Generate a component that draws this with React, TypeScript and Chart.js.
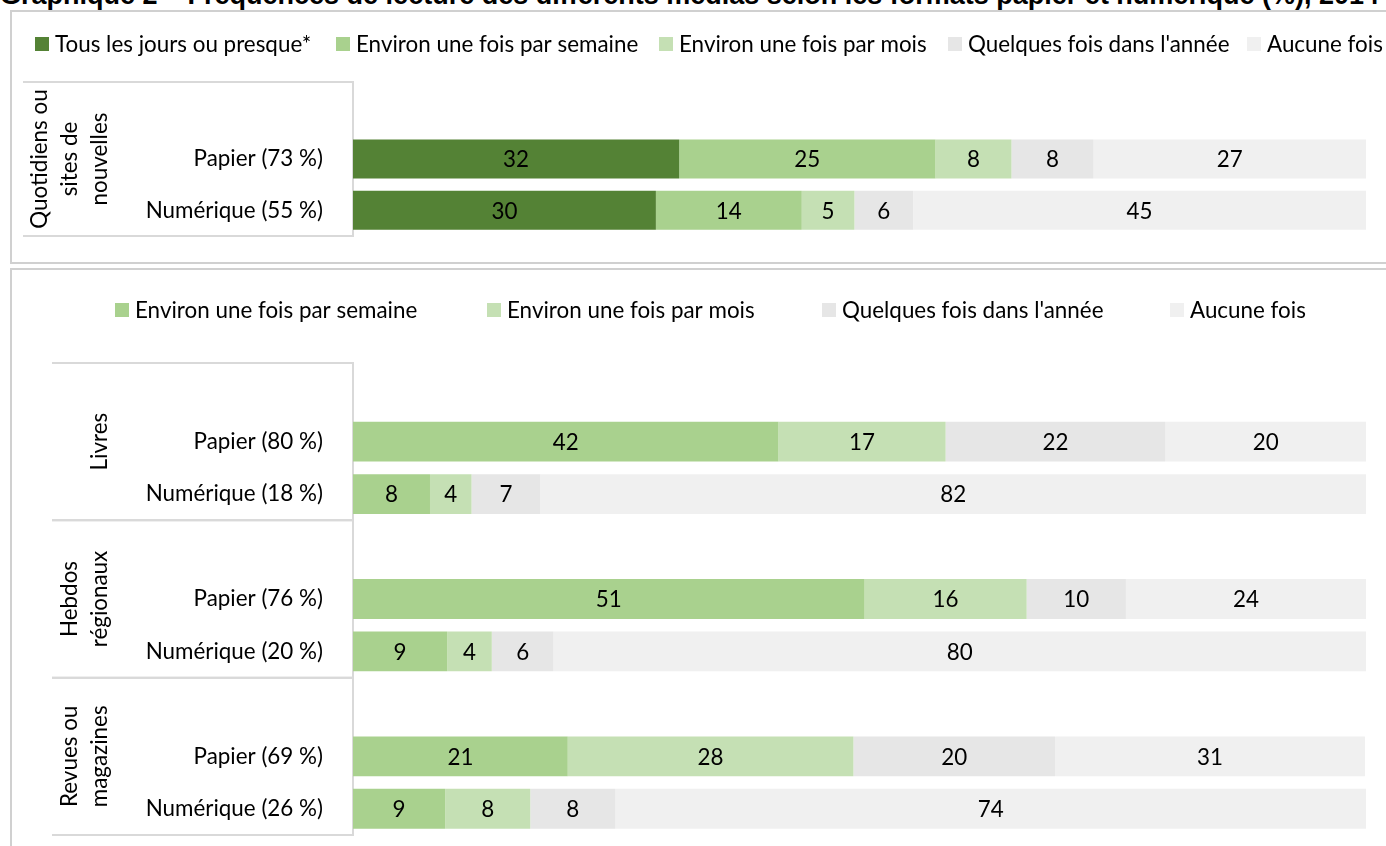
import React, { useEffect, useRef } from 'react';
import { Chart, registerables } from 'chart.js';

Chart.register(...registerables);

// ---------- data ----------
const TITLE =
  'Graphique 2 – Fréquences de lecture des différents médias selon les formats papier et numérique (%), 2014';

const SERIES_NAMES = [
  'Tous les jours ou presque*',
  'Environ une fois par semaine',
  'Environ une fois par mois',
  "Quelques fois dans l'année",
  'Aucune fois',
];
const SERIES_COLORS = ['#548235', '#a9d18e', '#c5e0b4', '#e6e6e6', '#f0f0f0'];

// Chart 1 : quotidiens
const GROUPS1 = [['Quotidiens ou', 'sites de', 'nouvelles']];
const CATS1 = ['', 'Papier (73 %)', 'Numérique (55 %)'];
const DAILY1 = [null, 32.2, 29.9];
const WEEKLY1 = [null, 25.3, 14.4];
const MONTHLY1 = [null, 7.5, 5.2];
const YEARLY1 = [null, 8.1, 5.8];
const NEVER1 = [null, 26.9, 44.7];

// Chart 2 : livres, hebdos, revues
const GROUPS2 = [['Livres'], ['Hebdos', 'régionaux'], ['Revues ou', 'magazines']];
const CATS2 = [
  '', 'Papier (80 %)', 'Numérique (18 %)',
  '', 'Papier (76 %)', 'Numérique (20 %)',
  '', 'Papier (69 %)', 'Numérique (26 %)',
];
const WEEKLY2 = [null, 42.0, 7.6, null, 50.5, 9.3, null, 21.2, 9.1];
const MONTHLY2 = [null, 16.5, 4.1, null, 16.0, 4.4, null, 28.2, 8.4];
const YEARLY2 = [null, 21.7, 6.8, null, 9.8, 6.1, null, 19.9, 8.4];
const NEVER2 = [null, 19.8, 81.5, null, 23.7, 80.2, null, 30.6, 74.1];

// ---------- styles ----------
const FONT = 'Lato';
const FS = 22.4;
const TEXT = '#000000';
const LINE = '#d9d9d9';

function segmentLabelsPlugin() {
  return {
    id: 'segmentLabels',
    afterDatasetsDraw(chart: any) {
      const ctx = chart.ctx;
      ctx.save();
      ctx.font = `${FS}px ${FONT}`;
      ctx.fillStyle = TEXT;
      ctx.textAlign = 'center';
      ctx.textBaseline = 'middle';
      chart.data.datasets.forEach((ds: any, di: number) => {
        const meta = chart.getDatasetMeta(di);
        meta.data.forEach((el: any, i: number) => {
          const v = ds.data[i];
          if (v == null) return;
          ctx.fillText(String(Math.round(v)), (el.x + el.base) / 2, el.y + 1);
        });
      });
      ctx.restore();
    },
  };
}

function groupAxisPlugin(groups: string[][], lineLeft: number, lastLineX: number, lineGap: number) {
  return {
    id: 'groupAxis',
    afterDraw(chart: any) {
      const y = chart.scales.y;
      const n = chart.data.labels.length;
      const per = n / groups.length;
      const slot = (y.bottom - y.top) / n;
      const ctx = chart.ctx;
      const right = chart.chartArea.left;
      ctx.save();
      ctx.strokeStyle = LINE;
      ctx.lineWidth = 2;
      groups.forEach((lines, g) => {
        const top = y.getPixelForValue(g * per) - slot / 2;
        const bottom = y.getPixelForValue(g * per + per - 1) + slot / 2;
        ctx.beginPath();
        ctx.moveTo(lineLeft, top);
        ctx.lineTo(right, top);
        ctx.moveTo(lineLeft, bottom);
        ctx.lineTo(right, bottom);
        ctx.stroke();
        const cy = (top + bottom) / 2;
        ctx.font = `${FS}px ${FONT}`;
        ctx.fillStyle = TEXT;
        ctx.textAlign = 'center';
        ctx.textBaseline = 'middle';
        lines.forEach((t, j) => {
          const cx = lastLineX - (lines.length - 1 - j) * lineGap;
          ctx.save();
          ctx.translate(cx, cy);
          ctx.rotate(-Math.PI / 2);
          ctx.fillText(t, 0, 0);
          ctx.restore();
        });
      });
      ctx.restore();
    },
  };
}

function legendPlugin(items: { text: string; color: string; x: number }[], cy: number) {
  return {
    id: 'posLegend',
    afterDraw(chart: any) {
      const ctx = chart.ctx;
      ctx.save();
      ctx.font = `${FS}px ${FONT}`;
      ctx.textAlign = 'left';
      ctx.textBaseline = 'middle';
      items.forEach((it) => {
        ctx.fillStyle = it.color;
        ctx.fillRect(it.x, cy - 7, 14, 14);
        ctx.fillStyle = TEXT;
        ctx.fillText(it.text, it.x + 20, cy + 1);
      });
      ctx.restore();
    },
  };
}

function makeConfig(
  labels: string[],
  series: (number | null)[][],
  colorOffset: number,
  padding: { top: number; bottom: number },
  plugins: any[],
) {
  return {
    type: 'bar' as const,
    data: {
      labels,
      datasets: series.map((d, i) => ({
        label: SERIES_NAMES[i + colorOffset],
        data: d,
        backgroundColor: SERIES_COLORS[i + colorOffset],
        borderWidth: 0,
        barPercentage: 0.76,
        categoryPercentage: 1,
      })),
    },
    options: {
      indexAxis: 'y' as const,
      animation: false as const,
      responsive: false,
      maintainAspectRatio: false,
      layout: { padding: { left: 0, right: 20, top: padding.top, bottom: padding.bottom } },
      scales: {
        x: { stacked: true, min: 0, max: 100, display: false },
        y: {
          stacked: true,
          grid: { display: false, drawTicks: false },
          border: { display: true, color: LINE, width: 2 },
          ticks: { font: { family: FONT, size: FS }, color: TEXT, padding: 30 },
          afterFit: (s: any) => {
            s.width = 353;
            s.paddingTop = 0;
            s.paddingBottom = 0;
          },
        },
      },
      plugins: { legend: { display: false }, tooltip: { enabled: false }, title: { display: false } },
    },
    plugins,
  };
}

export default function App() {
  const ref1 = useRef<HTMLCanvasElement>(null);
  const ref2 = useRef<HTMLCanvasElement>(null);

  useEffect(() => {
    const legend1 = [35, 336, 659, 948, 1247].map((x, i) => ({
      text: SERIES_NAMES[i],
      color: SERIES_COLORS[i],
      x,
    }));
    const legend2 = [115, 487, 822, 1170].map((x, i) => ({
      text: SERIES_NAMES[i + 1],
      color: SERIES_COLORS[i + 1],
      x,
    }));
    const c1 = new Chart(
      ref1.current as HTMLCanvasElement,
      makeConfig(CATS1, [DAILY1, WEEKLY1, MONTHLY1, YEARLY1, NEVER1], 0, { top: 82, bottom: 28 }, [
        segmentLabelsPlugin(),
        groupAxisPlugin(GROUPS1, 23, 100, 30),
        legendPlugin(legend1, 44),
      ]) as any,
    );
    const c2 = new Chart(
      ref2.current as HTMLCanvasElement,
      makeConfig(CATS2, [WEEKLY2, MONTHLY2, YEARLY2, NEVER2], 1, { top: 99, bottom: 11 }, [
        segmentLabelsPlugin(),
        groupAxisPlugin(GROUPS2, 52, 100, 30),
        legendPlugin(legend2, 46),
      ]) as any,
    );
    return () => {
      c1.destroy();
      c2.destroy();
    };
  }, []);

  return (
    <div
      style={{
        position: 'fixed',
        left: 0,
        top: 0,
        width: 1386,
        height: 846,
        overflow: 'hidden',
        background: '#ffffff',
      }}
    >
      <div
        style={{
          position: 'absolute',
          left: 10,
          top: 10,
          width: 1400,
          height: 250,
          border: '2px solid #d0d0d0',
        }}
      />
      <div
        style={{
          position: 'absolute',
          left: 10,
          top: 268,
          width: 1400,
          height: 620,
          border: '2px solid #d0d0d0',
        }}
      />
      <div
        style={{
          position: 'absolute',
          left: 0,
          top: -18,
          whiteSpace: 'nowrap',
          fontFamily: '"Liberation Sans", Arial, sans-serif',
          fontWeight: 'bold',
          fontSize: 27,
          lineHeight: '27px',
          color: '#000',
        }}
      >
        {TITLE}
      </div>
      <canvas
        ref={ref1}
        width={1386}
        height={264}
        style={{ position: 'absolute', left: 0, top: 0, width: 1386, height: 264 }}
      />
      <canvas
        ref={ref2}
        width={1386}
        height={582}
        style={{ position: 'absolute', left: 0, top: 264, width: 1386, height: 582 }}
      />
    </div>
  );
}
